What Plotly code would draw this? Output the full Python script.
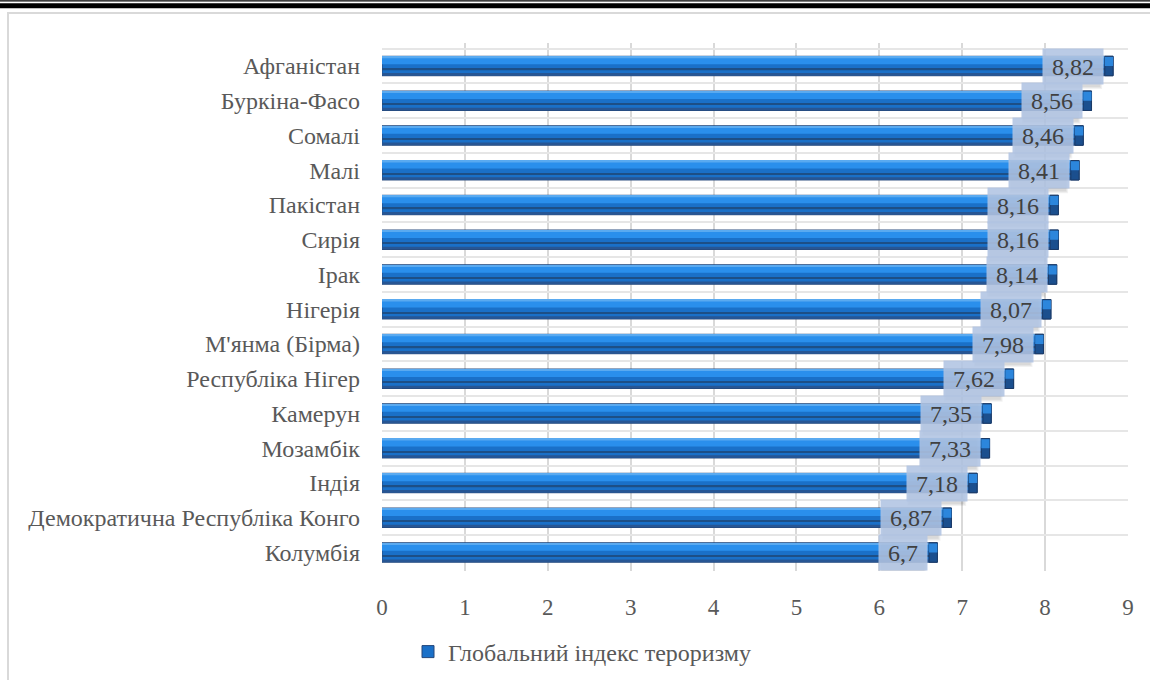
import plotly.graph_objects as go

countries = ["Афганістан", "Буркіна-Фасо", "Сомалі", "Малі", "Пакістан", "Сирія", "Ірак",
             "Нігерія", "М'янма (Бірма)", "Республіка Нігер", "Камерун", "Мозамбік", "Індія",
             "Демократична Республіка Конго", "Колумбія"]
values = [8.82, 8.56, 8.46, 8.41, 8.16, 8.16, 8.14, 8.07, 7.98, 7.62, 7.35, 7.33, 7.18, 6.87, 6.7]
series_name = "Глобальний індекс тероризму"
x_ticks = [0, 1, 2, 3, 4, 5, 6, 7, 8, 9]

W, H = 1150, 680
ML, MR, MT, MB = 382, 22, 43, 109
PW, PH = W - ML - MR, H - MT - MB

def px(x):
    return (x - ML) / PW

def py(y):
    return (H - MB - y) / PH

FONT = "Liberation Serif"
TXT = "#595959"
LBL = 24
PAD = 3
CAP = 0.1  # depth of the bar end face, in axis units

fig = go.Figure()

# base bar
fig.add_trace(go.Bar(y=countries, x=values, orientation="h", name=series_name,
                     width=0.56, marker=dict(color="#1a70c8", line=dict(color="#24477a", width=1)),
                     showlegend=True, hoverinfo="x+y"))
# top highlight
fig.add_trace(go.Bar(y=countries, x=values, orientation="h", width=0.2, offset=-0.25,
                     marker=dict(color="#2a8fec", line=dict(width=0)), showlegend=False, hoverinfo="skip"))
fig.add_trace(go.Bar(y=countries, x=values, orientation="h", width=0.05, offset=-0.27,
                     marker=dict(color="#5aaaf0", line=dict(width=0)), showlegend=False, hoverinfo="skip"))
# dark center line
fig.add_trace(go.Bar(y=countries, x=values, orientation="h", width=0.04, offset=0.08,
                     marker=dict(color="#1d4f86", line=dict(width=0)), showlegend=False, hoverinfo="skip"))
# bottom dark band
fig.add_trace(go.Bar(y=countries, x=values, orientation="h", width=0.07, offset=0.2,
                     marker=dict(color="#275694", line=dict(width=0)), showlegend=False, hoverinfo="skip"))
# end face of the bar
cap_base = [v - CAP for v in values]
cap_len = [CAP for _ in values]
fig.add_trace(go.Bar(y=countries, x=cap_len, base=cap_base, orientation="h", width=0.56,
                     marker=dict(color="#1b4f8e", line=dict(color="#1c3a66", width=1)),
                     showlegend=False, hoverinfo="skip"))
fig.add_trace(go.Bar(y=countries, x=cap_len, base=cap_base, orientation="h", width=0.26, offset=-0.26,
                     marker=dict(color="#2c86dc", line=dict(width=0)),
                     showlegend=False, hoverinfo="skip"))

annotations = []
shapes = []
for i, (c, v) in enumerate(zip(countries, values)):
    label = f"{v:g}".replace(".", ",")
    digits = sum(ch.isdigit() for ch in label)
    box_w = digits * LBL * 0.5 + LBL * 0.25 + LBL * 0.5 + 2 * PAD
    # soft drop shadow under the label box
    for k in range(3):
        shapes.append(dict(type="rect", xref="x", yref="y", xsizemode="pixel", ysizemode="pixel",
                           xanchor=v, yanchor=i, x0=-9 - box_w - 1 + k, x1=-9 - 2 - k,
                           y0=-17 - 6 + k, y1=17 - 6 - k,
                           fillcolor="rgba(40,40,40,0.06)", line=dict(width=0), layer="above"))
    annotations.append(dict(x=v, y=c, xref="x", yref="y", text="&nbsp;" + label + "&nbsp;",
                            showarrow=False, xanchor="right", xshift=-9,
                            font=dict(family=FONT, size=LBL, color="#404040"),
                            bgcolor="rgba(176,196,226,0.88)", borderpad=PAD, height=29))

shapes += [
    # top double black rule
    dict(type="rect", xref="paper", yref="paper", x0=px(0), x1=px(W), y0=py(1.6), y1=py(0.3),
         fillcolor="black", line=dict(width=0), layer="above"),
    dict(type="rect", xref="paper", yref="paper", x0=px(0), x1=px(W), y0=py(8.2), y1=py(3.2),
         fillcolor="black", line=dict(width=0), layer="above"),
    # chart area frame
    dict(type="rect", xref="paper", yref="paper", x0=px(8), x1=px(W + 5), y0=py(H + 5), y1=py(13),
         fillcolor="rgba(0,0,0,0)", line=dict(color="#d9d9d9", width=2), layer="below"),
]

fig.update_layout(
    width=W, height=H,
    margin=dict(l=ML, r=MR, t=MT, b=MB, autoexpand=False),
    paper_bgcolor="white", plot_bgcolor="white",
    barmode="overlay",
    font=dict(family=FONT, size=22, color=TXT),
    xaxis=dict(range=[0, 9], tickvals=x_ticks, showgrid=True, gridcolor="#d9d9d9", gridwidth=1.5,
               zeroline=False, showline=False, ticks="", ticklabelstandoff=20,
               tickfont=dict(family=FONT, size=23, color=TXT), fixedrange=True),
    yaxis=dict(autorange="reversed", type="category", tickson="boundaries", showgrid=True,
               gridcolor="#e6e6e6", gridwidth=1.5, showline=False, ticks="", ticklabelstandoff=21,
               tickfont=dict(family=FONT, size=24, color=TXT)),
    legend=dict(orientation="h", x=px(408), xanchor="left", y=py(652), yanchor="middle",
                font=dict(family=FONT, size=24, color=TXT), itemwidth=30),
    annotations=annotations,
    shapes=shapes,
    showlegend=True,
)

fig.write_html("out.html", config={"displayModeBar": False},
               post_script="document.body.style.margin='0';document.body.style.overflow='hidden';")
